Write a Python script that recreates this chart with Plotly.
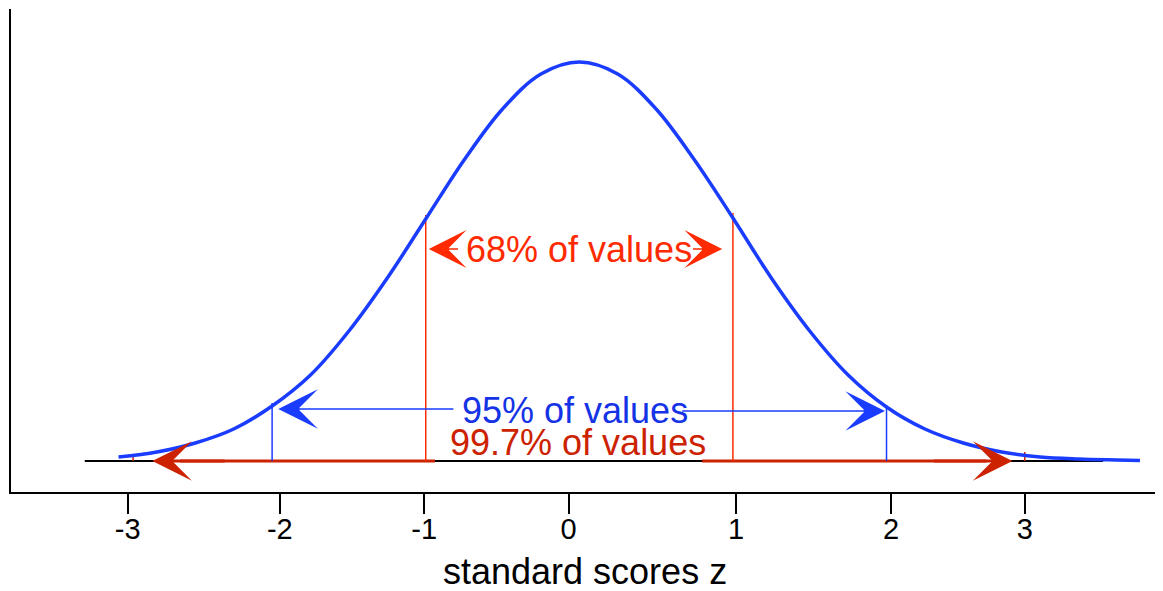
import plotly.graph_objects as go

# curve (z, density)
curve_z = [-3.0, -2.75, -2.5, -2.25, -2.0, -1.75, -1.5, -1.25, -1.0, -0.75, -0.5, -0.25, 0.0,
           0.25, 0.5, 0.75, 1.0, 1.25, 1.5, 1.75, 2.0, 2.25, 2.5, 2.75, 3.0, 3.25, 3.5, 3.65]
curve_y = [0.004, 0.009, 0.018, 0.032, 0.055, 0.086, 0.130, 0.183, 0.242, 0.301, 0.352, 0.387, 0.399,
           0.387, 0.352, 0.301, 0.243, 0.183, 0.130, 0.086, 0.054, 0.032, 0.018, 0.009, 0.004, 0.002, 0.001, 0.0005]

baseline_z = [-3.22, 3.41]
sd1_z = [-1.0, 1.0]
sd1_top = [0.246, 0.248]
sd2_z = [-2.0, 2.0]
sd2_top = [0.058, 0.056]
sd3_z = [-2.905, 2.90]
sd3_top = [0.007, 0.009]

tick_pos = [-2.94, -1.95, -1.01, -0.07, 1.02, 2.03, 2.9]
tick_text = ["-3", "-2", "-1", "0", "1", "2", "3"]

labels = ["68% of values", "95% of values", "99.7% of values"]

blue = "#1a3cff"
red = "#ff2a00"
dark_red = "#cc2200"
font = "Liberation Sans, Arial, sans-serif"

fig = go.Figure()

fig.add_trace(go.Scatter(x=baseline_z, y=[0, 0], mode="lines",
                         line=dict(color="black", width=2), hoverinfo="skip"))

# 99.7% shaft (red over baseline, gap under the label)
fig.add_trace(go.Scatter(x=[-2.6, -0.94, None, 0.80, 2.65], y=[0, 0, None, 0, 0], mode="lines",
                         line=dict(color=dark_red, width=3), hoverinfo="skip"))

for z, top in zip(sd1_z, sd1_top):
    fig.add_trace(go.Scatter(x=[z, z], y=[0, top], mode="lines",
                             line=dict(color=red, width=1.5), hoverinfo="skip"))
for z, top in zip(sd2_z, sd2_top):
    fig.add_trace(go.Scatter(x=[z, z], y=[0, top], mode="lines",
                             line=dict(color=blue, width=1.5), hoverinfo="skip"))
for z, top in zip(sd3_z, sd3_top):
    fig.add_trace(go.Scatter(x=[z, z], y=[0, top], mode="lines",
                             line=dict(color=dark_red, width=1.5), hoverinfo="skip"))

fig.add_trace(go.Scatter(x=curve_z, y=curve_y, mode="lines", line_shape="spline",
                         line=dict(color=blue, width=3.5), hoverinfo="skip"))


def arrow(tip, tail, y, color, width, size):
    return dict(x=tip, y=y, ax=tail, ay=y, xref="x", yref="y", axref="x", ayref="y",
                text="", showarrow=True, arrowhead=3, arrowcolor=color,
                arrowwidth=width, arrowsize=size)


annotations = [
    arrow(-0.98, -0.78, 0.212, red, 1.5, 4.2),
    arrow(0.93, 0.73, 0.212, red, 1.5, 4.2),
    arrow(-1.96, -0.81, 0.052, blue, 1.5, 4.4),
    arrow(1.99, 0.66, 0.050, blue, 1.5, 4.4),
    arrow(-2.78, -2.3, 0.0, dark_red, 3, 2.2),
    arrow(2.82, 2.3, 0.0, dark_red, 3, 2.2),
    dict(x=0.0, y=0.212, xref="x", yref="y", text=labels[0], showarrow=False,
         font=dict(family=font, size=36, color=red)),
    dict(x=-0.03, y=0.051, xref="x", yref="y", text=labels[1], showarrow=False,
         font=dict(family=font, size=36, color="#1433e6")),
    dict(x=-0.01, y=0.019, xref="x", yref="y", text=labels[2], showarrow=False,
         font=dict(family=font, size=36, color=dark_red)),
    dict(x=0.498, y=-0.165, xref="x domain", yref="paper", text="standard scores z",
         showarrow=False, yanchor="middle",
         font=dict(family=font, size=36, color="black")),
]

# the page body adds an 8px offset, so margins are trimmed by that much
fig.update_layout(
    width=1155, height=583,
    margin=dict(l=3, r=0, t=1, b=99),
    paper_bgcolor="white", plot_bgcolor="white",
    showlegend=False,
    annotations=annotations,
    xaxis=dict(range=[-3.70, 3.80], showgrid=False, zeroline=False,
               showline=True, linecolor="black", linewidth=2,
               tickmode="array", tickvals=tick_pos, ticktext=tick_text,
               ticks="outside", ticklen=20, tickwidth=1.5, tickcolor="black",
               ticklabelstandoff=-10,
               tickfont=dict(family=font, size=29, color="black")),
    yaxis=dict(range=[-0.031, 0.452], showgrid=False, zeroline=False,
               showline=True, linecolor="black", linewidth=2,
               showticklabels=False, ticks=""),
)

fig.write_html("out.html")
